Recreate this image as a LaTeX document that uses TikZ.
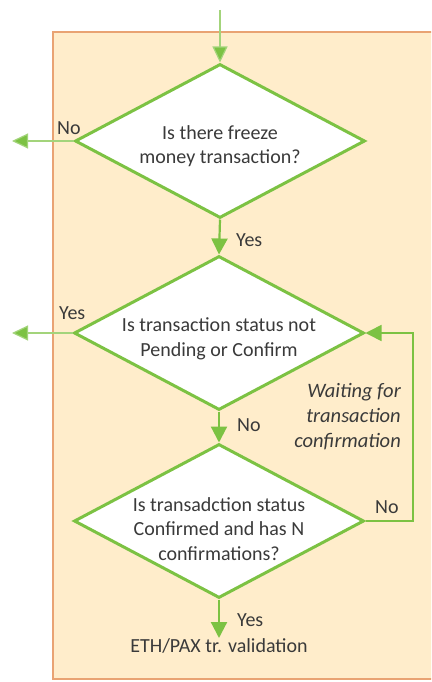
\documentclass[tikz,border=0pt]{standalone}
\usepackage{fontspec}
\setmainfont{Carlito}
\usetikzlibrary{shapes.geometric,arrows.meta}
\definecolor{flowgreen}{HTML}{7CC243}
\definecolor{panelfill}{HTML}{FFEDCB}
\definecolor{paneledge}{HTML}{E9A373}
\definecolor{labeltext}{HTML}{3A3A3A}
\tikzset{
  decision/.style={shape=diamond, draw=flowgreen, line width=3pt, fill=white,
    minimum width=290pt, minimum height=154pt, inner sep=0pt, aspect=1.9},
  dtext/.style={align=center, font=\fontsize{20}{24.5}\selectfont,
    text=labeltext, inner sep=0pt},
  flow/.style={draw=flowgreen, line width=2.2pt,
    -{Triangle[width=16pt,length=16pt,fill=flowgreen]}},
  exitflow/.style={draw=flowgreen!70, line width=1.2pt,
    -{Triangle[width=15pt,length=16pt,fill=flowgreen]}},
  lbl/.style={font=\fontsize{20}{24}\selectfont, text=labeltext, inner sep=0pt},
  note/.style={font=\fontsize{20.5}{25}\selectfont\itshape, text=labeltext,
    align=right, inner sep=0pt}
}
\begin{document}
\begin{tikzpicture}[x=1pt,y=-1pt]
  \useasboundingbox (0,0) rectangle (431,682);
  % background panel, running off the right edge
  \begin{scope}
    \clip (0,0) rectangle (431,682);
    \draw[paneledge, line width=2.5pt, fill=panelfill] (53,32) rectangle (445,679);
  \end{scope}

  % decisions (shape and wording kept apart so the text may overhang)
  \node[decision] (d1) at (220,141) {};
  \node[decision] (d2) at (219,333) {};
  \node[decision] (d3) at (219,521) {};
  \node[dtext] (t1) at (220,146) {Is there freeze\\money transaction?};
  \node[dtext] (t2) at (219,339) {Is transaction status not\\Pending or Confirm};
  \node[dtext] (t3) at (219,529) {Is transadction status\\Confirmed and has N\\confirmations?};

  % free ends
  \coordinate (in) at (220,10);
  \coordinate (out1) at (12,141);
  \coordinate (out2) at (12,333);
  \coordinate (loopR) at (413,521);
  \coordinate (loopT) at (413,333);
  \node[lbl, anchor=north] (result) at (219,638) {ETH/PAX tr. validation};

  % connectors
  \draw[exitflow] (in) -- (d1.north);
  \draw[exitflow] (d1.west) -- (out1);
  \draw[exitflow] (d2.west) -- (out2);
  \draw[flow] (d1.south) -- (d2.north);
  \draw[flow] (d2.south) -- (d3.north);
  \draw[flow] (d3.south) -- (result.north);
  \draw[draw=flowgreen, line width=1.6pt,
    -{Triangle[width=16pt,length=16pt,fill=flowgreen]}]
    (d3.east) -- (loopR) -- (loopT) -- (d2.east);

  % labels
  \node[lbl, anchor=west] (l1no) at (57,128) {No};
  \node[lbl, anchor=west] (l1yes) at (236,240) {Yes};
  \node[lbl, anchor=west] (l2yes) at (59,313) {Yes};
  \node[lbl, anchor=west] (l2no) at (237,425) {No};
  \node[lbl, anchor=west] (l3no) at (375,507) {No};
  \node[lbl, anchor=west] (l3yes) at (237,620) {Yes};
  \node[note, anchor=north east] (wait) at (401,383)
    {Waiting for\\transaction\\confirmation};
\end{tikzpicture}
\end{document}
